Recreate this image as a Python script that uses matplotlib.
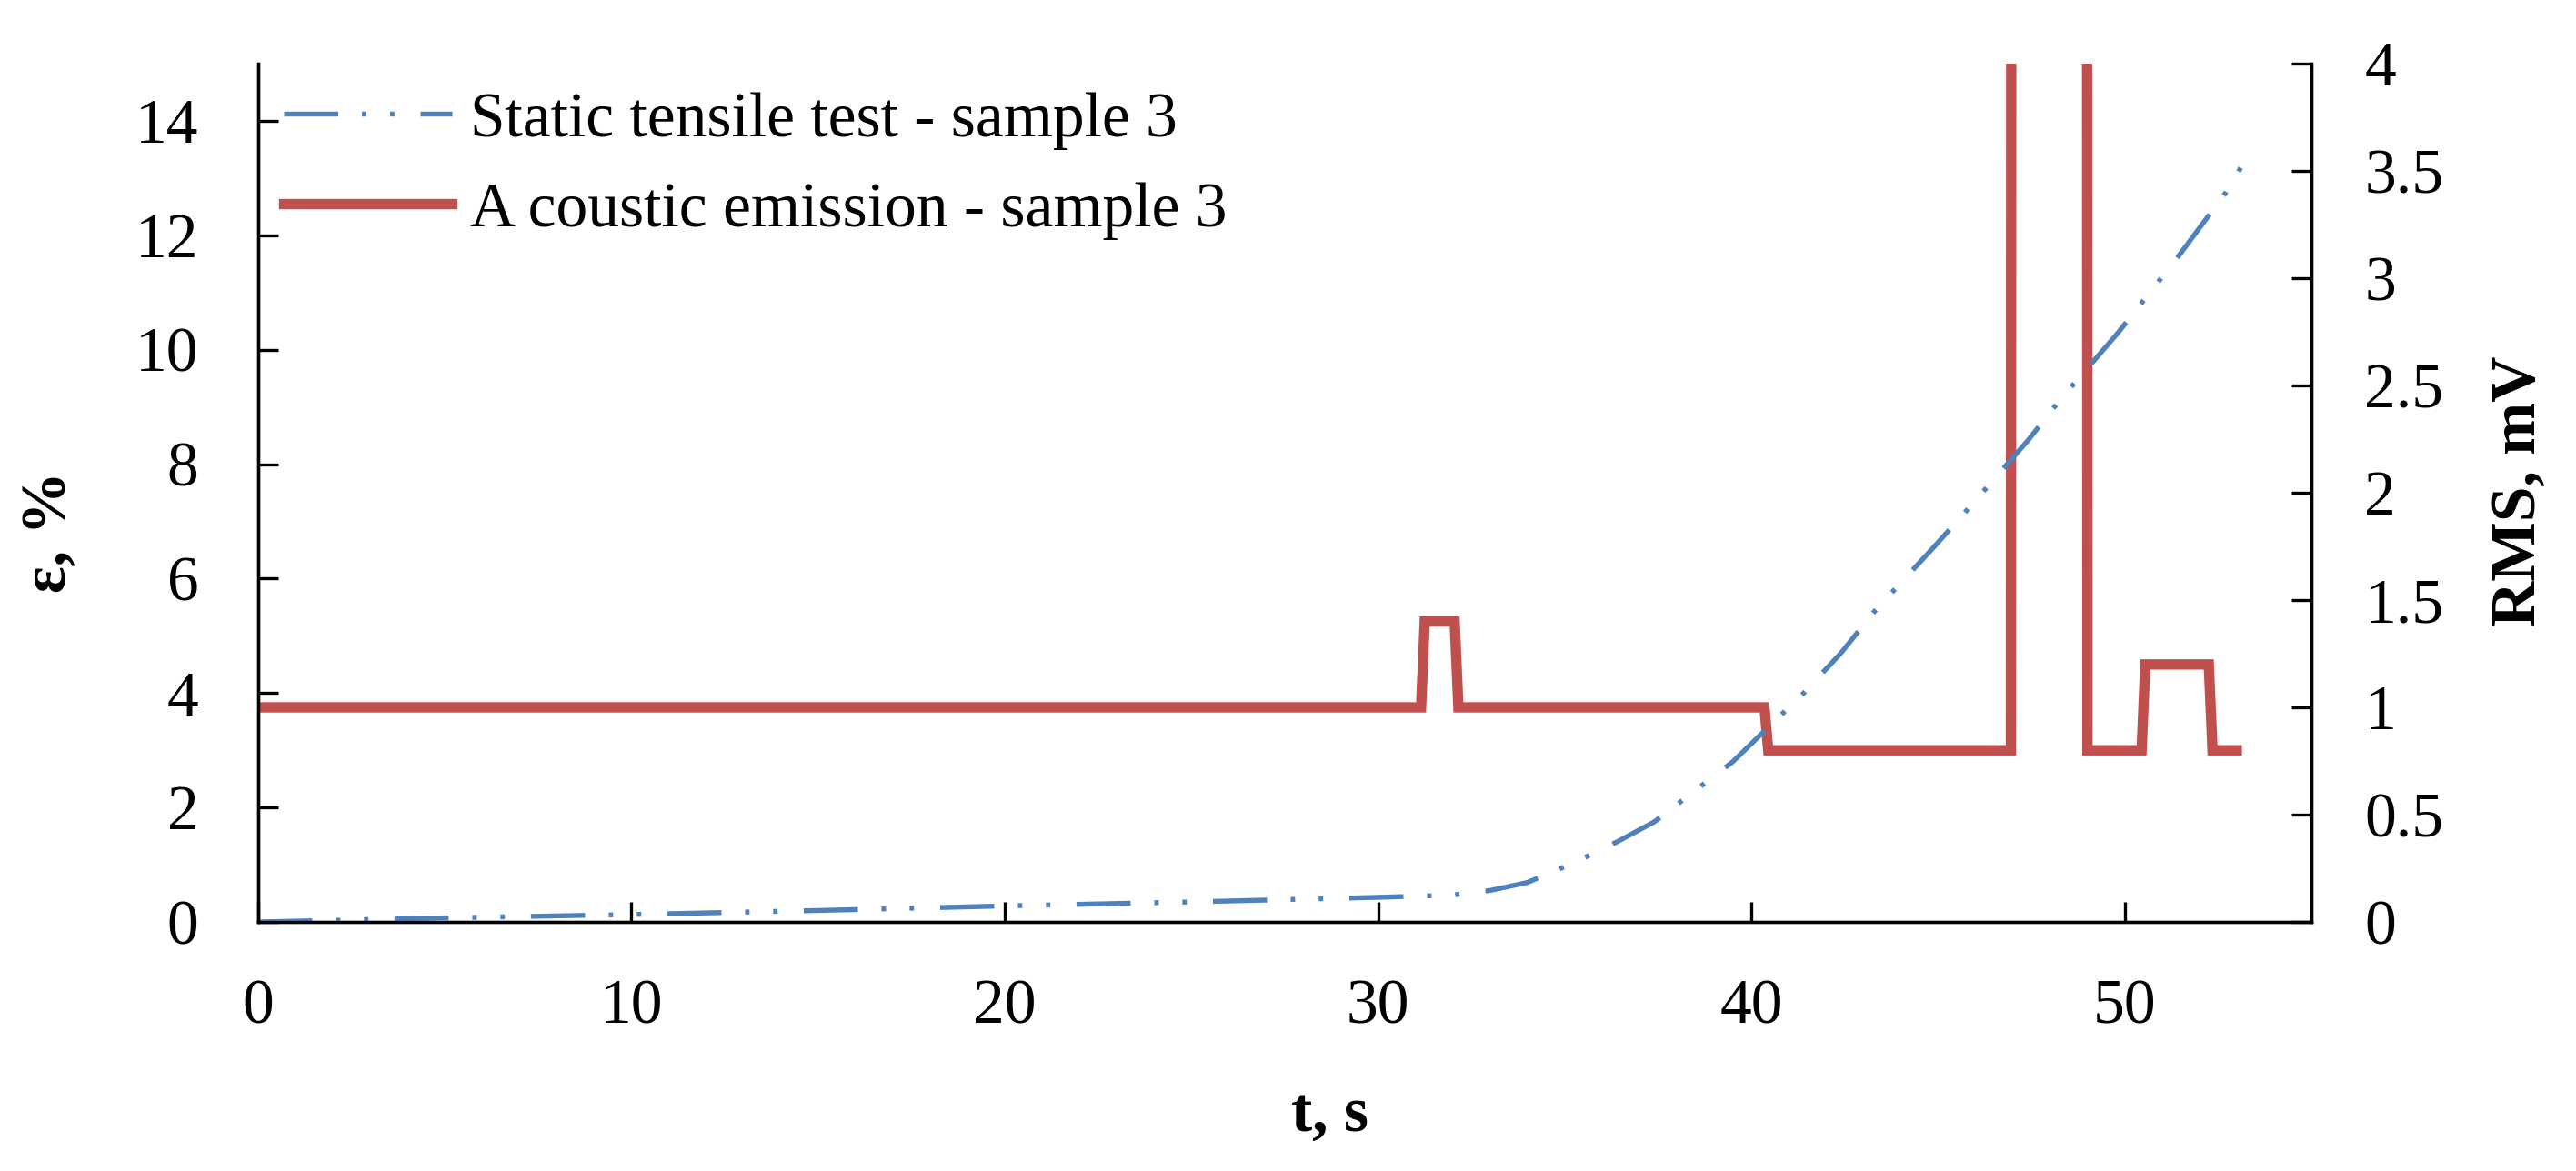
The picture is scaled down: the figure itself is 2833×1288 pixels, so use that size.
import numpy as np
import matplotlib
matplotlib.use("Agg")
from matplotlib import pyplot as plt

# strain curve, left axis (%)
t_strain = [0, 5, 10, 15, 20, 25, 30, 32, 33, 34, 35.3, 36.4, 37.4, 38.5, 39.5,
            40.4, 41.4, 42.4, 43.3, 44.9, 45.9, 47.4, 48.3, 49.8, 51.4, 52.7, 53.4]
strain = [0, 0.07, 0.13, 0.2, 0.28, 0.35, 0.43, 0.47, 0.55, 0.69, 1.05, 1.4, 1.75, 2.3, 2.8,
          3.37, 4.0, 4.7, 5.43, 6.56, 7.29, 8.41, 9.15, 10.28, 11.6, 12.74, 13.5]

# acoustic emission RMS, right axis (mV)
t_rms = [0, 31.15, 31.25, 32.05, 32.15, 40.35, 40.45, 46.95, 47.0, 48.95, 49.0,
         50.45, 50.55, 52.25, 52.35, 53.0]
rms = [1.0, 1.0, 1.4, 1.4, 1.0, 1.0, 0.8, 0.8, 20.0, 20.0, 0.8,
       0.8, 1.2, 1.2, 0.8, 0.8]

left_ticks = [0, 2, 4, 6, 8, 10, 12, 14]
right_ticks = [0, 0.5, 1, 1.5, 2, 2.5, 3, 3.5, 4]
right_labels = ["0", "0.5", "1", "1.5", "2", "2.5", "3", "3.5", "4"]
x_ticks = [0, 10, 20, 30, 40, 50]

BLUE = "#4F81BD"
RED = "#C0504D"
FS = 50

plt.rcParams["font.family"] = ["Liberation Serif", "DejaVu Serif"]

fig = plt.figure(figsize=(28.33, 12.88), dpi=100)
ax = fig.add_axes([0.1002, 0.2127, 0.7971, 0.733])
ax2 = ax.twinx()

blue_line, = ax.plot(t_strain, strain, color=BLUE, lw=3.9,
                     linestyle=(0, (11, 4.8, 0.9, 4.8, 0.9, 5.3)),
                     label="Static tensile test - sample 3")
red_line, = ax2.plot(t_rms, rms, color=RED, lw=8.2, solid_joinstyle="miter",
                     label="A coustic emission - sample 3")

# blue curve drawn over the red one
ax.set_zorder(2)
ax2.set_zorder(1)
ax.patch.set_visible(False)

ax.set_xlim(0, 55)
ax.set_ylim(0, 15)
ax2.set_ylim(0, 4)
ax.set_xticks(x_ticks)
ax.set_yticks(left_ticks)
ax2.set_yticks(right_ticks)
ax2.set_yticklabels(right_labels)

for a in (ax, ax2):
    a.spines["top"].set_visible(False)
    for s in a.spines.values():
        s.set_linewidth(2.4)
ax.tick_params(axis="x", direction="in", length=16, width=2.4, pad=45, labelsize=FS)
ax.tick_params(axis="y", direction="in", length=16, width=2.4, pad=47, labelsize=FS)
ax2.tick_params(axis="y", direction="in", length=16, width=2.4, pad=42, labelsize=FS)

ax.set_xlabel("t, s", fontsize=FS, fontweight="bold", va="center")
ax.xaxis.set_label_coords(0.522, -0.225)
ax.set_ylabel("ε, %", fontsize=FS, fontweight="bold", va="center")
ax.yaxis.set_label_coords(-0.1014, 0.454)
ax2.set_ylabel("RMS, mV", fontsize=FS, fontweight="bold", va="center")
ax2.yaxis.set_label_coords(1.1014, 0.502)

ax.legend(handles=[blue_line, red_line], loc="upper left", bbox_to_anchor=(0.0124, 0.967),
          frameon=False, fontsize=FS, borderpad=0, borderaxespad=0,
          handlelength=2.66, handletextpad=0.29, labelspacing=0.51)

fig.savefig("out.png", dpi=100, facecolor="white")
